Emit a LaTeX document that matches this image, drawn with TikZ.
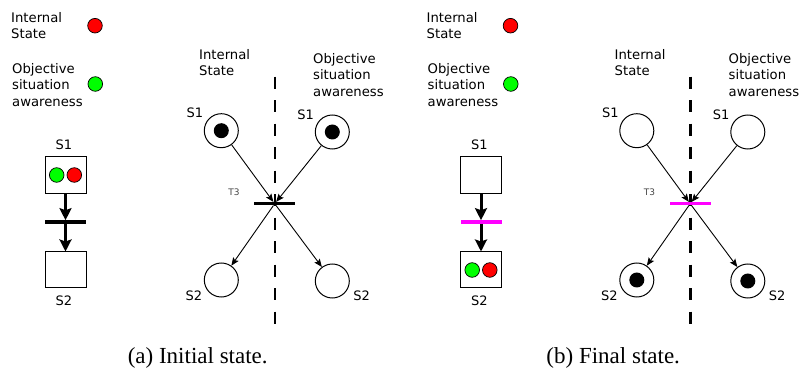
\documentclass[tikz,border=0pt]{standalone}
\usepackage{fontspec}
\setmainfont{Liberation Serif}
\setsansfont{DejaVu Sans}
\usetikzlibrary{arrows.meta}
\definecolor{tokred}{RGB}{255,0,0}
\definecolor{tokgreen}{RGB}{0,255,0}
\definecolor{barmag}{RGB}{255,0,255}
\begin{document}
\begin{tikzpicture}[x=1pt,y=-1pt,
 lbl/.style={font=\sffamily\fontsize{13.2}{16.6}\selectfont, align=left, anchor=north west, inner sep=0pt},
 slbl/.style={font=\sffamily\fontsize{13}{15}\selectfont, inner sep=0pt},
 tlbl/.style={font=\sffamily\fontsize{9}{10}\selectfont, text=black!72, inner sep=0pt},
 place/.style={circle, draw, line width=1pt, minimum size=34pt, inner sep=0pt},
 token/.style={circle, fill=black, minimum size=15pt, inner sep=0pt},
 dot/.style={circle, draw, line width=0.7pt, minimum size=14.6pt, inner sep=0pt},
 sbox/.style={draw, line width=1pt, minimum width=41pt, minimum height=37pt, inner sep=0pt},
 bar/.style={fill=#1, minimum width=41pt, minimum height=3.2pt, inner sep=0pt},
 thinarrow/.style={-{Stealth[length=8pt,width=6.5pt,inset=1.5pt]}, line width=0.9pt},
 thickarrow/.style={-{Stealth[length=12pt,width=12pt,inset=2pt]}, line width=3pt},
 divider/.style={line width=2.5pt, dash pattern=on 12pt off 11.5pt},
 captext/.style={font=\fontsize{23}{27}\selectfont, anchor=base, inner sep=0pt}
]
\useasboundingbox (0,0) rectangle (801,374);

% ---------------- panel (a) ----------------
\begin{scope}
\node[lbl] (a-li) at (11,12) {Internal\\State};
\node[dot, fill=tokred] (a-lr) at (95,25.7) {};
\node[lbl] (a-lo) at (12,63) {Objective\\situation\\awareness};
\node[dot, fill=tokgreen] (a-lg) at (95.3,84) {};

\node[slbl] (a-bs1) at (64,145) {S1};
\node[sbox] (a-b1) at (65.5,175.5) {};
\node[dot, fill=tokgreen] (a-bg) at (56.7,175) {};
\node[dot, fill=tokred] (a-br) at (74.3,175) {};
\node[bar=black] (a-bt) at (65.5,222) {};
\node[sbox, minimum height=36pt] (a-b2) at (65.5,270) {};
\node[slbl] (a-bs2) at (64,301) {S2};
\draw[thickarrow] (a-b1) -- (a-bt);
\draw[thickarrow] (a-bt) -- (a-b2);

\node[lbl] (a-ri) at (199,49) {Internal\\State};
\node[lbl] (a-ro) at (313,53) {Objective\\situation\\awareness};
\coordinate (a-d1) at (275,76.7);
\coordinate (a-d2) at (275,323.7);
\draw[divider] (a-d1) -- (a-d2);

\node[place] (a-p1l) at (221.3,130.7) {};
\node[token] (a-k1l) at (a-p1l) {};
\node[place] (a-p1r) at (332.3,132) {};
\node[token] (a-k1r) at (a-p1r) {};
\node[place] (a-p2l) at (221.3,280) {};
\node[place] (a-p2r) at (332.3,281) {};
\node[slbl] (a-s1l) at (195,113) {S1};
\node[slbl] (a-s1r) at (305.7,115) {S1};
\node[slbl] (a-s2l) at (194,296) {S2};
\node[slbl] (a-s2r) at (361.7,296) {S2};
\node[tlbl] (a-t3) at (234,192) {T3};
\node[bar=black] (a-t) at (274.7,203.7) {};
\draw[thinarrow] (a-p1l) -- (a-t);
\draw[thinarrow] (a-p1r) -- (a-t);
\draw[thinarrow] (a-t) -- (a-p2l);
\draw[thinarrow] (a-t) -- (a-p2r);

\node[captext] (a-cap) at (197.7,363) {(a) Initial state.};
\end{scope}

% ---------------- panel (b) ----------------
\begin{scope}[xshift=415.5pt]
\node[lbl] (b-li) at (11,12) {Internal\\State};
\node[dot, fill=tokred] (b-lr) at (95,25.7) {};
\node[lbl] (b-lo) at (12,63) {Objective\\situation\\awareness};
\node[dot, fill=tokgreen] (b-lg) at (95.3,84) {};

\node[slbl] (b-bs1) at (64,145) {S1};
\node[sbox] (b-b1) at (65.5,175.5) {};
\node[bar=barmag] (b-bt) at (65.5,222) {};
\node[sbox, minimum height=36pt] (b-b2) at (65.5,270) {};
\node[dot, fill=tokgreen] (b-bg) at (56.7,270) {};
\node[dot, fill=tokred] (b-br) at (74.3,270) {};
\node[slbl] (b-bs2) at (64,301) {S2};
\draw[thickarrow] (b-b1) -- (b-bt);
\draw[thickarrow] (b-bt) -- (b-b2);

\node[lbl] (b-ri) at (199,49) {Internal\\State};
\node[lbl] (b-ro) at (313,53) {Objective\\situation\\awareness};
\coordinate (b-d1) at (275,76.7);
\coordinate (b-d2) at (275,323.7);
\draw[divider] (b-d1) -- (b-d2);

\node[place] (b-p1l) at (221.3,130.7) {};
\node[place] (b-p1r) at (332.3,132) {};
\node[place] (b-p2l) at (221.3,280) {};
\node[token] (b-k2l) at (b-p2l) {};
\node[place] (b-p2r) at (332.3,281) {};
\node[token] (b-k2r) at (b-p2r) {};
\node[slbl] (b-s1l) at (195,113) {S1};
\node[slbl] (b-s1r) at (305.7,115) {S1};
\node[slbl] (b-s2l) at (194,296) {S2};
\node[slbl] (b-s2r) at (361.7,296) {S2};
\node[tlbl] (b-t3) at (234,192) {T3};
\node[bar=barmag] (b-t) at (274.7,203.7) {};
\draw[thinarrow] (b-p1l) -- (b-t);
\draw[thinarrow] (b-p1r) -- (b-t);
\draw[thinarrow] (b-t) -- (b-p2l);
\draw[thinarrow] (b-t) -- (b-p2r);

\node[captext] (b-cap) at (197.7,363) {(b) Final state.};
\end{scope}
\end{tikzpicture}
\end{document}
